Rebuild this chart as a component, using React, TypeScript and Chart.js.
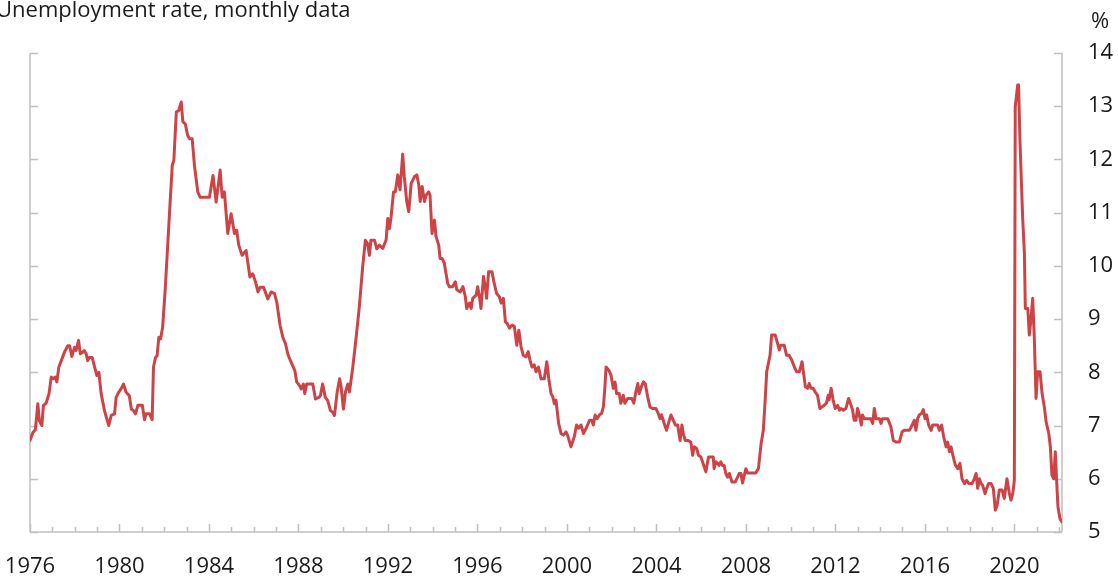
import React, { useEffect, useRef } from "react";
import { Chart, registerables } from "chart.js";

Chart.register(...registerables);

const titleText = "Unemployment rate, monthly data";
const unitLabel = "%";
const yearLabels = [1976, 1980, 1984, 1988, 1992, 1996, 2000, 2004, 2008, 2012, 2016, 2020];
const yTickValues = [5, 6, 7, 8, 9, 10, 11, 12, 13, 14];
const xMin = 1976;
const xMax = 2022.13;

// decimal-year positions of the plotted observations
const dates = [
  1976.0, 1976.13, 1976.24, 1976.35, 1976.42, 1976.53, 1976.6, 1976.72, 1976.85, 1976.95,
  1977.05, 1977.13, 1977.2, 1977.29, 1977.4, 1977.54, 1977.69, 1977.77, 1977.87, 1977.99,
  1978.06, 1978.17, 1978.25, 1978.36, 1978.43, 1978.51, 1978.58, 1978.65, 1978.78, 1978.89, 1978.99,
  1979.08, 1979.18, 1979.33, 1979.43, 1979.52, 1979.63, 1979.78, 1979.85, 1979.97,
  1980.07, 1980.18, 1980.29, 1980.44, 1980.53, 1980.63, 1980.72, 1980.82,
  1981.02, 1981.12, 1981.19, 1981.34, 1981.46, 1981.52, 1981.61, 1981.68, 1981.76, 1981.84, 1981.93,
  1982.05, 1982.16, 1982.26, 1982.36, 1982.43, 1982.54, 1982.65, 1982.76, 1982.83, 1982.94,
  1983.05, 1983.13, 1983.25, 1983.35, 1983.5, 1983.6,
  1984.02, 1984.18, 1984.32, 1984.5, 1984.59, 1984.69, 1984.84, 1984.99,
  1985.14, 1985.24, 1985.33, 1985.48, 1985.66, 1985.83, 1985.96,
  1986.08, 1986.19, 1986.29, 1986.44, 1986.63, 1986.78, 1986.93,
  1987.03, 1987.18, 1987.3, 1987.42, 1987.52, 1987.67, 1987.77, 1987.84, 1987.92,
  1988.05, 1988.12, 1988.22, 1988.28, 1988.37, 1988.64, 1988.76, 1988.91, 1988.98,
  1989.08, 1989.2, 1989.31, 1989.43, 1989.53, 1989.61, 1989.73, 1989.84, 1989.91,
  1990.01, 1990.1, 1990.21, 1990.28, 1990.43, 1990.58, 1990.72, 1990.87, 1990.99,
  1991.09, 1991.17, 1991.24, 1991.4, 1991.5, 1991.62, 1991.77, 1991.92, 1991.99,
  1992.07, 1992.14, 1992.25, 1992.33, 1992.44, 1992.54, 1992.66, 1992.73, 1992.84, 1992.93,
  1993.04, 1993.19, 1993.29, 1993.38, 1993.44, 1993.53, 1993.63, 1993.71, 1993.82, 1993.88, 1993.97,
  1994.08, 1994.15, 1994.27, 1994.33, 1994.42, 1994.52, 1994.67, 1994.74, 1994.89,
  1995.01, 1995.08, 1995.23, 1995.35, 1995.46, 1995.52, 1995.64, 1995.72, 1995.79, 1995.94,
  1996.01, 1996.09, 1996.16, 1996.27, 1996.35, 1996.41, 1996.5, 1996.65, 1996.75, 1996.86, 1996.98,
  1997.06, 1997.16, 1997.25, 1997.33, 1997.43, 1997.55, 1997.65, 1997.76, 1997.85, 1997.95,
  1998.05, 1998.17, 1998.27, 1998.35, 1998.44, 1998.54, 1998.62, 1998.73, 1998.84, 1998.99,
  1999.1, 1999.19, 1999.29, 1999.37, 1999.44, 1999.51, 1999.63, 1999.74, 1999.84, 1999.96,
  2000.03, 2000.18, 2000.33, 2000.43, 2000.52, 2000.63, 2000.74, 2000.86,
  2001.01, 2001.11, 2001.18, 2001.26, 2001.35, 2001.45, 2001.55, 2001.63, 2001.7, 2001.75, 2001.87, 2001.97,
  2002.07, 2002.15, 2002.22, 2002.34, 2002.41, 2002.52, 2002.59, 2002.71, 2002.9, 2002.99,
  2003.08, 2003.17, 2003.23, 2003.33, 2003.42, 2003.5, 2003.61, 2003.71, 2003.83, 2003.98,
  2004.08, 2004.16, 2004.23, 2004.35, 2004.45, 2004.54, 2004.65, 2004.75, 2004.85, 2004.95,
  2005.06, 2005.14, 2005.2, 2005.29, 2005.4, 2005.54, 2005.62, 2005.69, 2005.8, 2005.88, 2005.99,
  2006.14, 2006.21, 2006.33, 2006.54, 2006.58, 2006.66, 2006.73, 2006.8, 2006.88, 2006.95,
  2007.03, 2007.1, 2007.18, 2007.26, 2007.38, 2007.52, 2007.63, 2007.7, 2007.78, 2007.85, 2007.93,
  2008.0, 2008.07, 2008.44, 2008.56, 2008.68, 2008.78, 2008.87, 2008.93,
  2009.02, 2009.08, 2009.15, 2009.31, 2009.42, 2009.49, 2009.56, 2009.71, 2009.82, 2009.93,
  2010.05, 2010.17, 2010.27, 2010.39, 2010.51, 2010.58, 2010.66, 2010.76, 2010.83, 2010.91,
  2011.01, 2011.1, 2011.2, 2011.31, 2011.4, 2011.5, 2011.6, 2011.68, 2011.72, 2011.81, 2011.9, 2011.99,
  2012.1, 2012.18, 2012.25, 2012.36, 2012.47, 2012.59, 2012.7, 2012.77, 2012.84, 2012.92, 2012.99,
  2013.07, 2013.16, 2013.21, 2013.29, 2013.58, 2013.67, 2013.74, 2013.82, 2013.97,
  2014.04, 2014.11, 2014.34, 2014.48, 2014.59, 2014.71, 2014.82, 2014.86, 2014.98,
  2015.08, 2015.31, 2015.43, 2015.53, 2015.6, 2015.68, 2015.75, 2015.86, 2015.93,
  2016.01, 2016.08, 2016.17, 2016.28, 2016.35, 2016.57, 2016.65, 2016.75, 2016.84, 2016.95,
  2017.02, 2017.1, 2017.17, 2017.27, 2017.36, 2017.47, 2017.57, 2017.66, 2017.77, 2017.87, 2017.96,
  2018.11, 2018.21, 2018.29, 2018.36, 2018.44, 2018.51, 2018.58, 2018.69, 2018.76, 2018.85, 2018.96,
  2019.06, 2019.15, 2019.23, 2019.33, 2019.45, 2019.55, 2019.67, 2019.78, 2019.85, 2019.93,
  2020.0, 2020.04, 2020.15, 2020.19, 2020.25, 2020.37, 2020.45, 2020.49, 2020.6, 2020.67, 2020.74, 2020.82, 2020.89, 2020.97,
  2021.04, 2021.15, 2021.24, 2021.34, 2021.42, 2021.54, 2021.61, 2021.68, 2021.76, 2021.83, 2021.89, 2021.95,
  2022.04, 2022.13,
];

// unemployment rate, %
const rates = [
  6.72, 6.87, 6.92, 7.41, 7.09, 7.0, 7.38, 7.42, 7.6, 7.91,
  7.88, 7.91, 7.82, 8.1, 8.22, 8.38, 8.5, 8.5, 8.3, 8.47,
  8.41, 8.6, 8.35, 8.38, 8.41, 8.35, 8.22, 8.28, 8.28, 8.1, 7.94,
  8.0, 7.6, 7.28, 7.13, 7.0, 7.19, 7.22, 7.53, 7.63,
  7.69, 7.78, 7.63, 7.56, 7.31, 7.28, 7.22, 7.38,
  7.38, 7.11, 7.22, 7.22, 7.11, 8.1, 8.28, 8.31, 8.66, 8.63, 8.85,
  9.6, 10.42, 11.17, 11.89, 11.98, 12.89, 12.92, 13.08, 12.71, 12.67,
  12.45, 12.39, 12.39, 11.89, 11.39, 11.29,
  11.29, 11.7, 11.2, 11.8, 11.29, 11.39, 10.61, 10.98,
  10.61, 10.67, 10.39, 10.2, 10.29, 9.79, 9.85,
  9.7, 9.51, 9.6, 9.6, 9.38, 9.51, 9.48,
  9.32, 8.88, 8.66, 8.54, 8.35, 8.19, 8.1, 8.03, 7.82,
  7.75, 7.69, 7.78, 7.6, 7.78, 7.78, 7.5, 7.53, 7.56,
  7.78, 7.53, 7.47, 7.28, 7.25, 7.19, 7.63, 7.88, 7.72,
  7.31, 7.63, 7.78, 7.63, 8.1, 8.66, 9.23, 9.98, 10.48,
  10.42, 10.2, 10.48, 10.48, 10.32, 10.39, 10.33, 10.49, 10.89,
  10.7, 10.92, 11.39, 11.39, 11.71, 11.43, 12.1, 11.68, 11.21, 11.02,
  11.55, 11.68, 11.71, 11.52, 11.21, 11.49, 11.21, 11.33, 11.39, 11.33, 10.61,
  10.86, 10.55, 10.39, 10.14, 10.14, 10.05, 9.67, 9.61, 9.61,
  9.7, 9.55, 9.51, 9.61, 9.42, 9.2, 9.3, 9.2, 9.39, 9.45,
  9.61, 9.42, 9.2, 9.8, 9.61, 9.39, 9.89, 9.89, 9.67, 9.48, 9.42,
  9.3, 9.39, 8.95, 8.92, 8.83, 8.89, 8.86, 8.51, 8.79, 8.48,
  8.32, 8.29, 8.39, 8.23, 8.1, 8.14, 8.01, 8.1, 7.88, 7.88,
  8.2, 7.88, 7.6, 7.54, 7.41, 7.48, 7.04, 6.85, 6.82, 6.88,
  6.82, 6.6, 6.79, 7.01, 6.95, 7.01, 6.85, 6.95,
  7.1, 7.1, 7.01, 7.2, 7.13, 7.2, 7.23, 7.35, 7.73, 8.1, 8.04, 7.95,
  7.7, 7.82, 7.6, 7.6, 7.42, 7.57, 7.42, 7.51, 7.51, 7.42,
  7.63, 7.79, 7.6, 7.73, 7.82, 7.79, 7.54, 7.35, 7.32, 7.32,
  7.23, 7.13, 7.2, 7.04, 6.91, 7.04, 7.2, 7.1, 7.01, 7.01,
  6.72, 7.01, 6.85, 6.72, 6.72, 6.69, 6.44, 6.6, 6.57, 6.44, 6.41,
  6.22, 6.13, 6.41, 6.41, 6.19, 6.32, 6.29, 6.25, 6.32, 6.25,
  6.25, 6.1, 6.03, 6.1, 5.94, 5.94, 6.03, 6.1, 6.1, 5.92, 6.07,
  6.19, 6.11, 6.11, 6.19, 6.66, 6.91, 7.54, 8.01,
  8.2, 8.32, 8.7, 8.7, 8.54, 8.42, 8.51, 8.51, 8.32, 8.32,
  8.23, 8.1, 8.01, 8.01, 8.2, 7.98, 7.73, 7.7, 7.79, 7.7,
  7.7, 7.63, 7.57, 7.32, 7.35, 7.38, 7.42, 7.57, 7.48, 7.7, 7.48, 7.32,
  7.38, 7.29, 7.32, 7.29, 7.32, 7.51, 7.38, 7.29, 7.1, 7.1, 7.32,
  7.2, 7.01, 7.2, 7.13, 7.13, 7.04, 7.32, 7.13, 7.13,
  7.04, 7.13, 7.13, 6.98, 6.72, 6.69, 6.69, 6.69, 6.88,
  6.91, 6.91, 7.01, 7.1, 6.91, 7.13, 7.2, 7.23, 7.3,
  7.13, 7.2, 7.01, 6.91, 7.01, 7.01, 6.91, 7.01, 6.79, 6.6,
  6.69, 6.51, 6.6, 6.41, 6.26, 6.19, 6.29, 6.0, 5.91, 5.97, 5.91,
  5.91, 6.0, 6.1, 5.82, 6.0, 5.91, 5.88, 5.72, 5.82, 5.91, 5.91,
  5.82, 5.41, 5.5, 5.79, 5.79, 5.63, 6.0, 5.72, 5.6, 5.72,
  5.97, 12.99, 13.4, 13.4, 12.36, 10.92, 10.23, 9.2, 9.2, 8.7, 8.98, 9.39, 8.67, 7.51,
  8.01, 8.01, 7.6, 7.35, 7.07, 6.85, 6.6, 6.07, 6.0, 6.51, 5.97, 5.47,
  5.25, 5.19,
];

const LINE_COLOR = "#cc4448";
const AXIS_COLOR = "#c0c0c0";
const TEXT_COLOR = "#1a1a1a";
const FONT = '"Open Sans", "Noto Sans", sans-serif';

const axesPlugin = {
  id: "customAxes",
  beforeDatasetsDraw(chart: any) {
    const { ctx, chartArea, scales } = chart;
    const xs = scales.x;
    const ys = scales.y;
    const left = chartArea.left;
    const right = chartArea.right;
    const top = ys.getPixelForValue(14);
    const bottom = ys.getPixelForValue(5);
    ctx.save();
    ctx.strokeStyle = AXIS_COLOR;
    ctx.lineWidth = 1.5;
    ctx.beginPath();
    ctx.moveTo(left, top);
    ctx.lineTo(left, bottom);
    ctx.moveTo(right, top);
    ctx.lineTo(right, bottom);
    ctx.moveTo(left, bottom);
    ctx.lineTo(right, bottom);
    for (const v of yTickValues) {
      const y = Math.round(ys.getPixelForValue(v)) + 0.5;
      ctx.moveTo(left, y);
      ctx.lineTo(left + 8, y);
      ctx.moveTo(right, y);
      ctx.lineTo(right - 8, y);
    }
    for (let yr = Math.ceil(xMin); yr <= xMax; yr++) {
      const x = Math.round(xs.getPixelForValue(yr)) + 0.5;
      const major = yearLabels.includes(yr);
      ctx.moveTo(x, bottom);
      ctx.lineTo(x, bottom - (major ? 8 : 5));
    }
    ctx.stroke();
    ctx.restore();
  },
  afterDraw(chart: any) {
    const { ctx, scales } = chart;
    const xs = scales.x;
    const ys = scales.y;
    ctx.save();
    ctx.fillStyle = TEXT_COLOR;
    // title
    ctx.font = `22px ${FONT}`;
    ctx.textAlign = "left";
    ctx.textBaseline = "alphabetic";
    ctx.fillText(titleText, -4, 17);
    // unit and right-axis labels
    ctx.font = `22px ${FONT}`;
    ctx.textAlign = "left";
    ctx.textBaseline = "middle";
    ctx.fillText(unitLabel, 1091, 22);
    for (const v of yTickValues) {
      ctx.fillText(String(v), 1088, ys.getPixelForValue(v));
    }
    // year labels
    ctx.textAlign = "center";
    for (const yr of yearLabels) {
      ctx.fillText(String(yr), xs.getPixelForValue(yr), 567);
    }
    ctx.restore();
  },
};

export default function App() {
  const canvasRef = useRef<HTMLCanvasElement | null>(null);

  useEffect(() => {
    const canvas = canvasRef.current;
    if (!canvas) return;
    const points = dates.map((d, i) => ({ x: d, y: rates[i] }));
    const chart = new Chart(canvas, {
      type: "line",
      data: {
        datasets: [
          {
            label: "Unemployment rate",
            data: points,
            borderColor: LINE_COLOR,
            backgroundColor: LINE_COLOR,
            borderWidth: 3,
            pointRadius: 0,
            tension: 0,
            borderJoinStyle: "round",
            borderCapStyle: "round",
          },
        ],
      },
      options: {
        responsive: false,
        animation: false,
        devicePixelRatio: 1,
        layout: { padding: { left: 30, right: 56, top: 53, bottom: 45 } },
        plugins: { legend: { display: false }, tooltip: { enabled: false }, title: { display: false } },
        scales: {
          x: { type: "linear", min: xMin, max: xMax, display: false },
          y: { type: "linear", min: 5, max: 14, display: false },
        },
      },
      plugins: [axesPlugin],
    });
    return () => chart.destroy();
  }, []);

  return (
    <div style={{ position: "fixed", left: 0, top: 0, width: 1118, height: 577, background: "#fff" }}>
      <canvas ref={canvasRef} width={1118} height={577} style={{ width: 1118, height: 577 }} />
    </div>
  );
}
